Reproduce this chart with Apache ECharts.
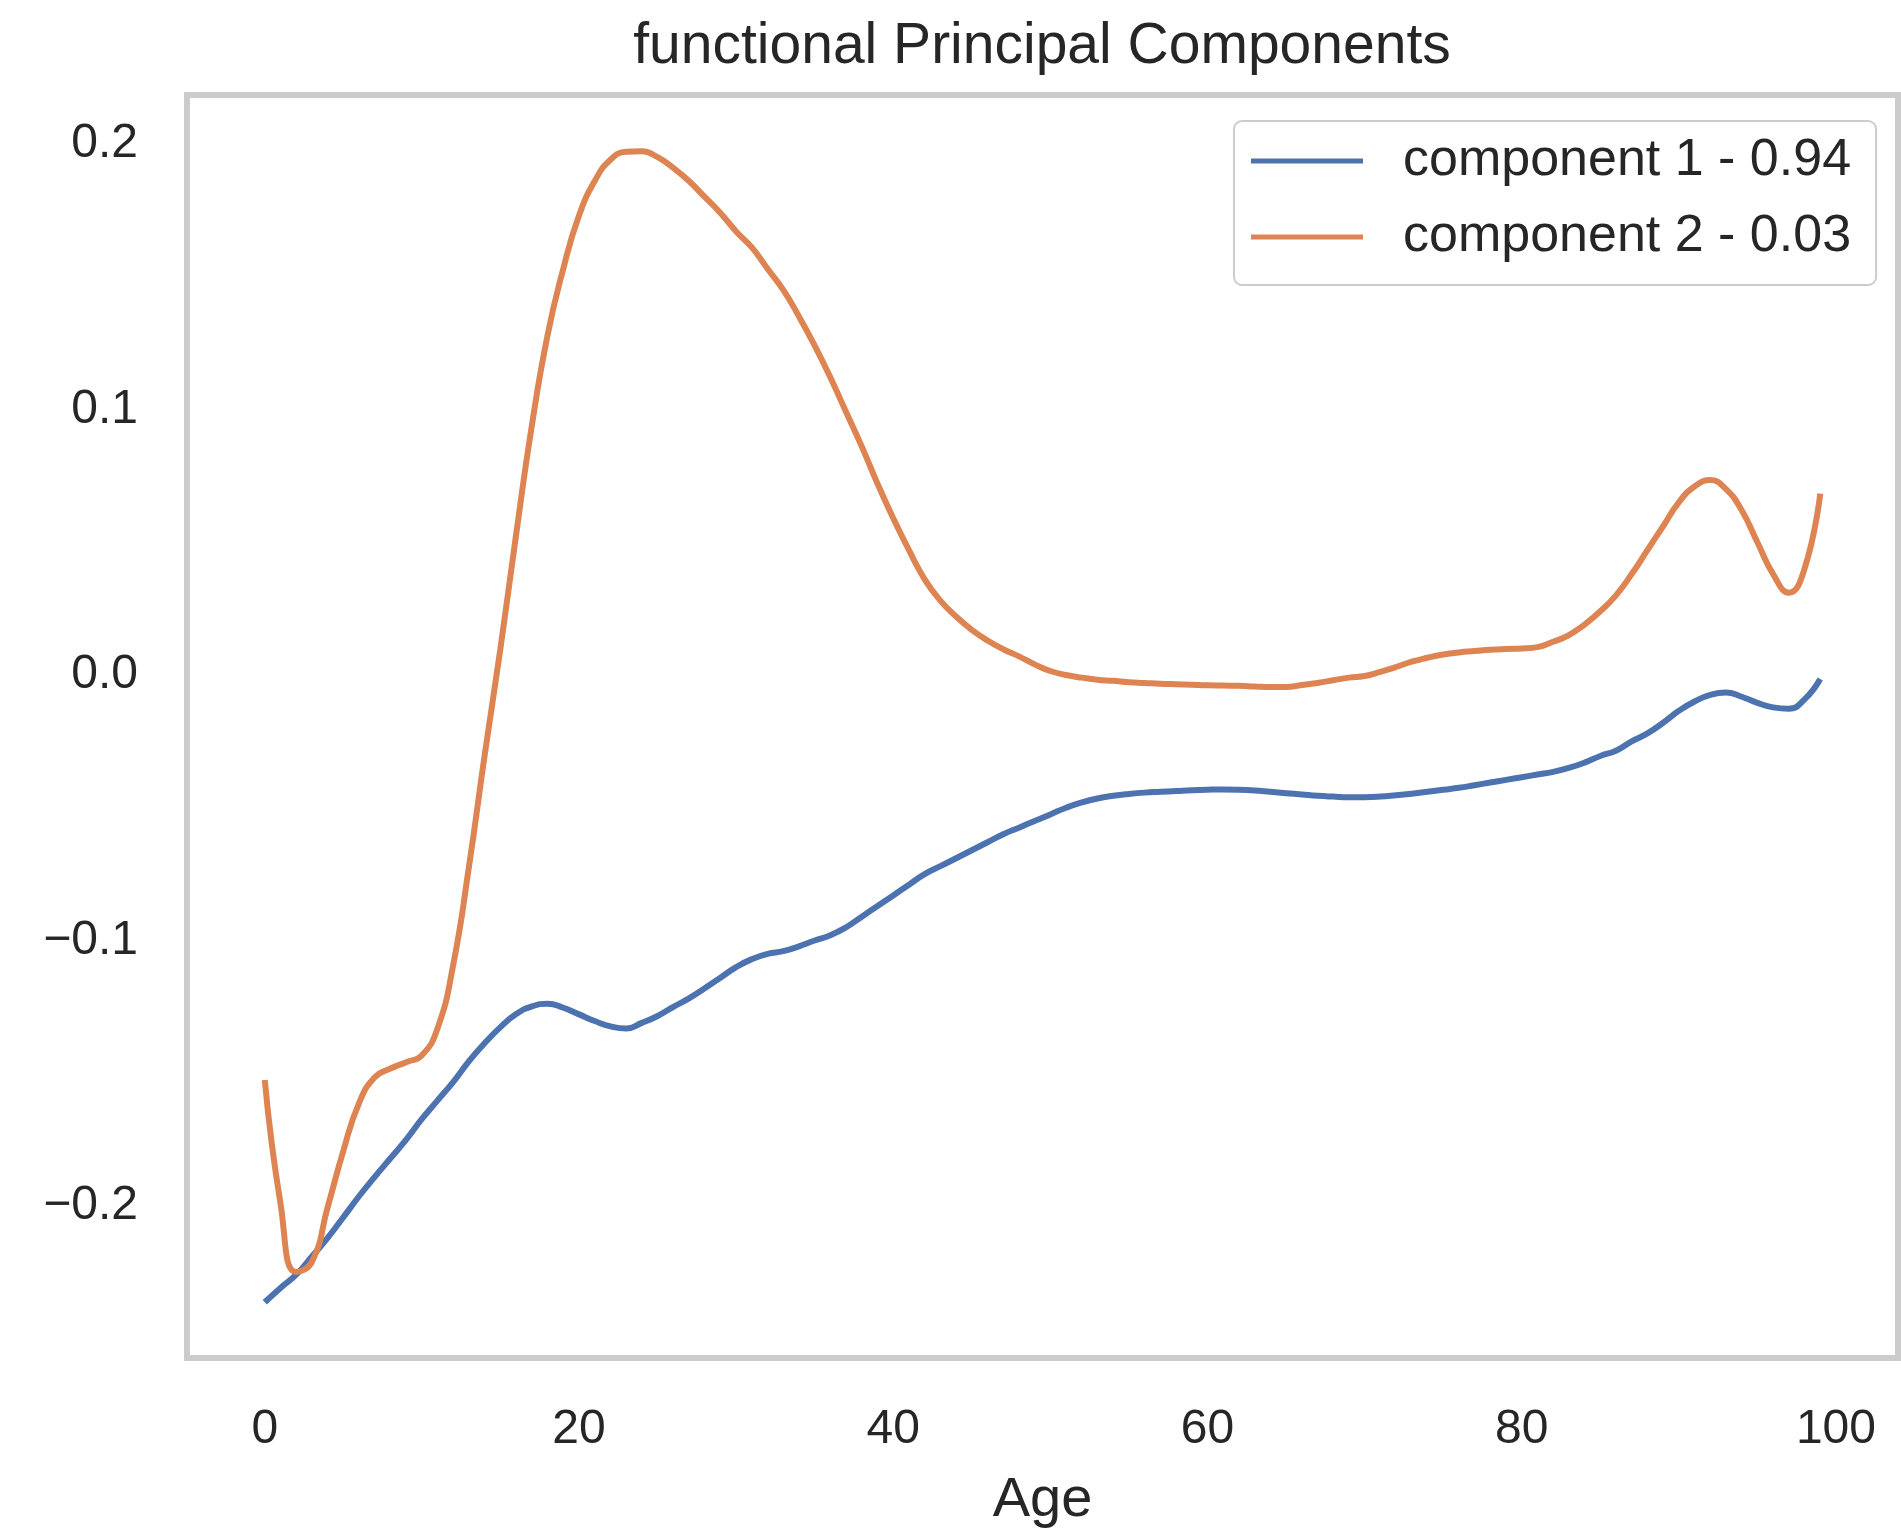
<!DOCTYPE html>
<html>
<head>
<meta charset="utf-8">
<script src="https://cdn.jsdelivr.net/npm/echarts@6/dist/echarts.min.js"></script>
<style>
  html, body { margin: 0; padding: 0; background: #ffffff; }
  #chart { width: 1901px; height: 1534px; }
</style>
</head>
<body>
<div id="chart"></div>
<script>
const titleText = 'functional Principal Components';
const xName = 'Age';
const seriesNames = ['component 1 - 0.94', 'component 2 - 0.03'];
const xTicks = [0, 20, 40, 60, 80, 100];
const yTicks = [-0.2, -0.1, 0.0, 0.1, 0.2];

// ages 0..99
const ages = [
  0,1,2,3,4,5,6,7,8,9,10,11,12,13,14,15,16,17,18,19,
  20,21,22,23,24,25,26,27,28,29,30,31,32,33,34,35,36,37,38,39,
  40,41,42,43,44,45,46,47,48,49,50,51,52,53,54,55,56,57,58,59,
  60,61,62,63,64,65,66,67,68,69,70,71,72,73,74,75,76,77,78,79,
  80,81,82,83,84,85,86,87,88,89,90,91,92,93,94,95,96,97,98,99
];

const component1 = [
  -0.2362,-0.2308,-0.2258,-0.2190,-0.2120,-0.2042,-0.1963,-0.1890,-0.1820,-0.1750,
  -0.1672,-0.1602,-0.1532,-0.1454,-0.1386,-0.1326,-0.1277,-0.1248,-0.1238,-0.1253,
  -0.1278,-0.1303,-0.1323,-0.1331,-0.1310,-0.1284,-0.1250,-0.1218,-0.1180,-0.1140,
  -0.1100,-0.1070,-0.1050,-0.1040,-0.1022,-0.1000,-0.0980,-0.0950,-0.0910,-0.0870,
  -0.0830,-0.0790,-0.0750,-0.0720,-0.0690,-0.0660,-0.0630,-0.0600,-0.0575,-0.0550,
  -0.0525,-0.0500,-0.0480,-0.0465,-0.0455,-0.0448,-0.0443,-0.0440,-0.0437,-0.0434,
  -0.0432,-0.0431,-0.0432,-0.0435,-0.0440,-0.0445,-0.0450,-0.0455,-0.0458,-0.0460,
  -0.0460,-0.0458,-0.0453,-0.0447,-0.0440,-0.0432,-0.0425,-0.0415,-0.0405,-0.0395,
  -0.0385,-0.0375,-0.0365,-0.0350,-0.0330,-0.0305,-0.0285,-0.0250,-0.0220,-0.0180,
  -0.0135,-0.0100,-0.0075,-0.0066,-0.0082,-0.0105,-0.0122,-0.0127,-0.0092,-0.0015
];

const component2 = [
  -0.1525,-0.1990,-0.2248,-0.2210,-0.2005,-0.1792,-0.1612,-0.1515,-0.1482,-0.1458,
  -0.1432,-0.1330,-0.1090,-0.0720,-0.0300,0.0100,0.0530,0.0940,0.1280,0.1530,
  0.1730,0.1860,0.1940,0.1970,0.1972,0.1950,0.1910,0.1860,0.1800,0.1740,
  0.1670,0.1610,0.1530,0.1450,0.1350,0.1240,0.1120,0.0990,0.0860,0.0720,
  0.0590,0.0470,0.0360,0.0280,0.0220,0.0170,0.0130,0.0097,0.0070,0.0040,
  0.0015,0.0000,-0.0010,-0.0018,-0.0022,-0.0027,-0.0030,-0.0033,-0.0035,-0.0037,
  -0.0039,-0.0040,-0.0041,-0.0043,-0.0045,-0.0045,-0.0038,-0.0030,-0.0020,-0.0010,
  -0.0004,0.0012,0.0030,0.0050,0.0065,0.0077,0.0085,0.0090,0.0095,0.0098,
  0.0100,0.0105,0.0125,0.0150,0.0190,0.0240,0.0300,0.0380,0.0470,0.0560,
  0.0650,0.0710,0.0734,0.0700,0.0620,0.0500,0.0380,0.0310,0.0400,0.0683
];

const colors = ['#4c72b0', '#dd8452'];
const textColor = '#262626';
const fontFamily = '"Liberation Sans", Arial, Helvetica, sans-serif';

function pairs(xs, ys) { return xs.map((x, i) => [x, ys[i]]); }
function fmtY(v) {
  const s = Math.abs(v).toFixed(1);
  return (v < -1e-9 ? '\u2212' : '') + s;
}

const chart = echarts.init(document.getElementById('chart'), null, { renderer: 'canvas' });
chart.setOption({
  backgroundColor: '#ffffff',
  animation: false,
  title: {
    text: titleText,
    left: 1042,
    textAlign: 'center',
    top: 19,
    padding: 0,
    textStyle: { fontFamily, fontSize: 57, fontWeight: 'normal', color: textColor }
  },
  legend: {
    orient: 'vertical',
    left: 1234,
    top: 121,
    padding: [12, 25, 20, 17],
    itemWidth: 112,
    itemHeight: 5,
    itemGap: 20,
    backgroundColor: 'rgba(255,255,255,0.8)',
    borderColor: '#cccccc',
    borderWidth: 2,
    borderRadius: 8,
    data: seriesNames.map(n => ({ name: n, icon: 'rect' })),
    textStyle: { fontFamily, fontSize: 52, color: textColor, lineHeight: 56, padding: [0, 0, 0, 35] }
  },
  grid: {
    left: 187, top: 95, right: 3, bottom: 164,
    show: true, borderColor: '#cccccc', borderWidth: 6, backgroundColor: '#ffffff',
    containLabel: false
  },
  xAxis: {
    type: 'value',
    min: -4.95, max: 103.95,
    name: xName,
    nameLocation: 'middle',
    nameGap: 115,
    nameTextStyle: { fontFamily, fontSize: 56, color: textColor },
    axisLine: { show: false },
    axisTick: { show: false },
    splitLine: { show: false },
    axisLabel: {
      customValues: xTicks,
      margin: 48,
      fontFamily, fontSize: 48, color: textColor,
      formatter: v => String(v)
    }
  },
  yAxis: {
    type: 'value',
    min: -0.2572, max: 0.2184,
    axisLine: { show: false },
    axisTick: { show: false },
    splitLine: { show: false },
    axisLabel: {
      customValues: yTicks,
      margin: 49,
      fontFamily, fontSize: 48, color: textColor,
      formatter: v => fmtY(v)
    }
  },
  series: [
    {
      name: seriesNames[0], type: 'line', data: pairs(ages, component1),
      showSymbol: false, symbol: 'none', smooth: 0.5,
      lineStyle: { color: colors[0], width: 6 }, itemStyle: { color: colors[0] }
    },
    {
      name: seriesNames[1], type: 'line', data: pairs(ages, component2),
      showSymbol: false, symbol: 'none', smooth: 0.5,
      lineStyle: { color: colors[1], width: 6 }, itemStyle: { color: colors[1] }
    }
  ]
});
</script>
</body>
</html>
